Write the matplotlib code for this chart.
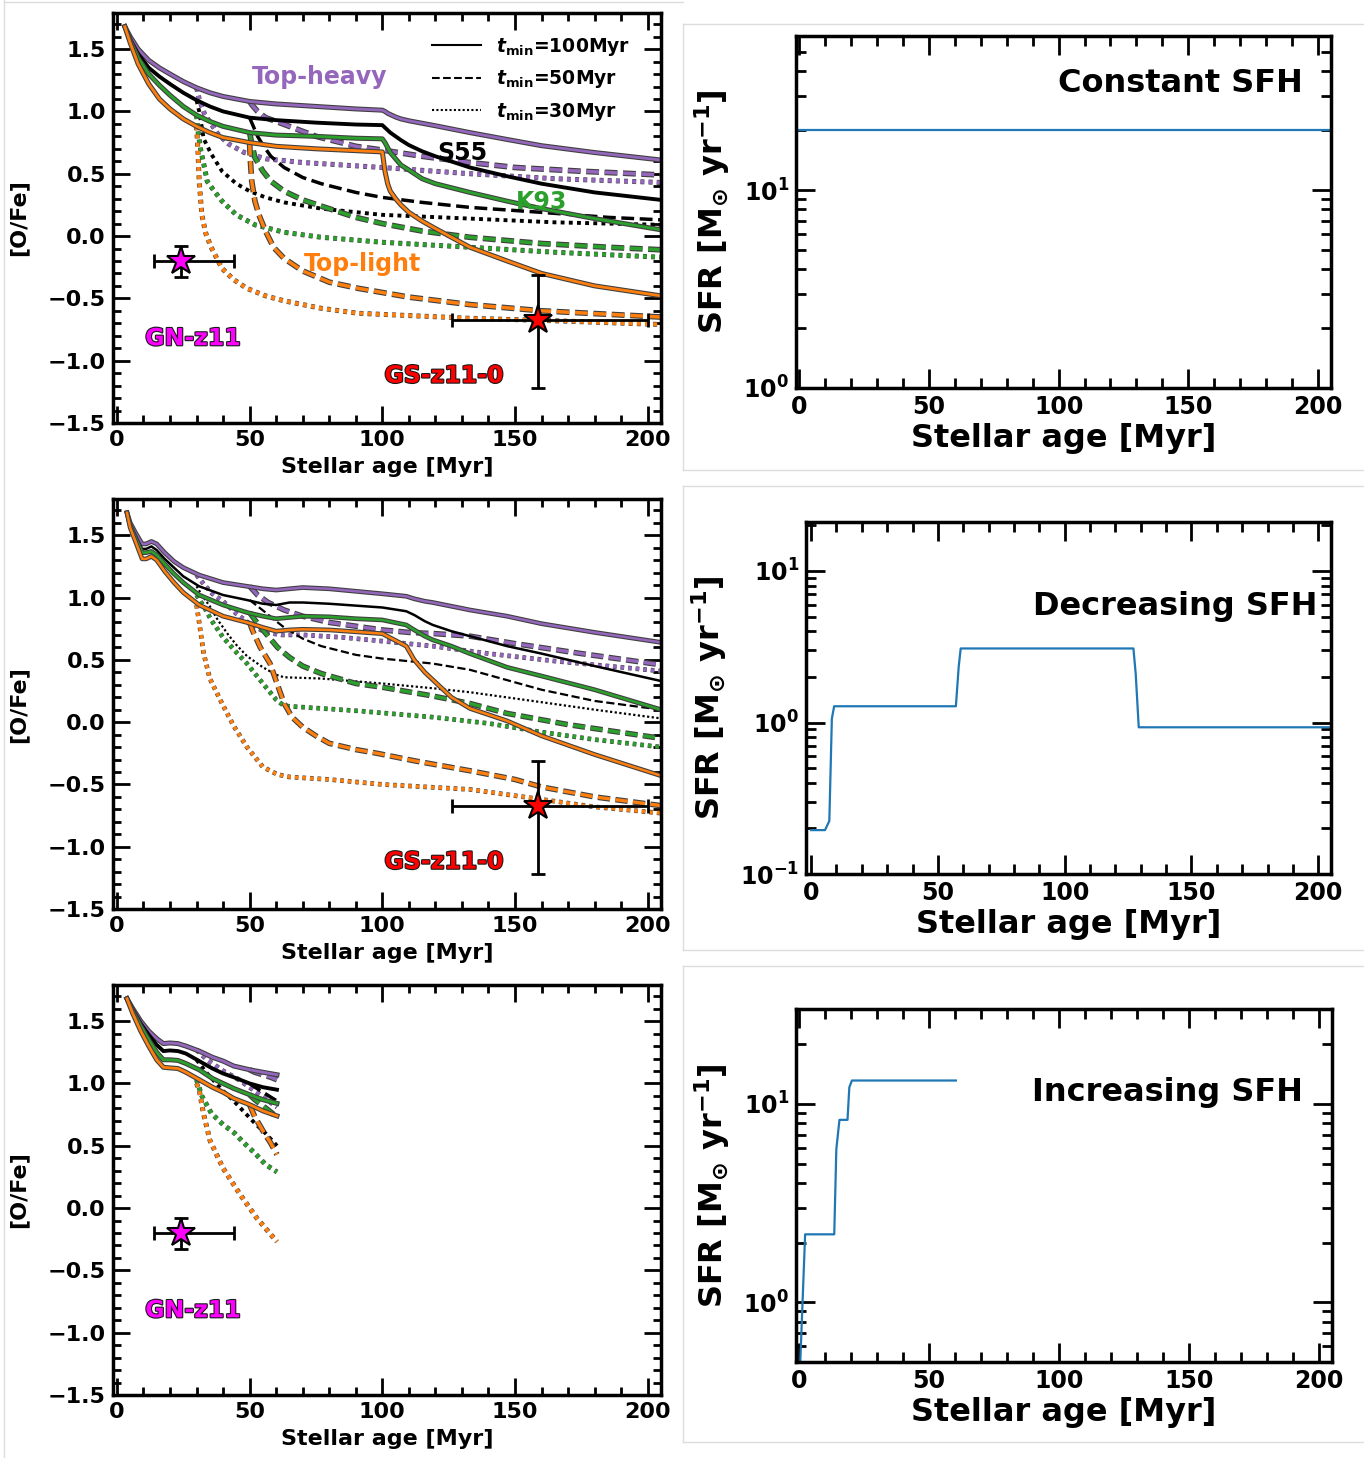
import math
import matplotlib
matplotlib.use("Agg")
import matplotlib.pyplot as plt
import matplotlib.patheffects as pe
from matplotlib.lines import Line2D
from matplotlib.ticker import MultipleLocator, LogLocator, FuncFormatter, NullFormatter

plt.rcParams['font.family'] = 'DejaVu Sans'
plt.rcParams['font.weight'] = 'bold'
plt.rcParams['axes.labelweight'] = 'bold'
plt.rcParams['mathtext.fontset'] = 'dejavusans'

# ---------------- data: [O/Fe] tracks, constant SFH ----------------
cst_age_100 = [3, 5, 8, 12, 16, 20, 25, 30, 35, 40, 50, 60, 75, 90, 100, 101, 102, 103,
               105, 107, 110, 115, 120, 133, 147, 160, 180, 205]
cst_th_100 = [1.68, 1.60, 1.50, 1.41, 1.35, 1.30, 1.24, 1.19, 1.15, 1.12, 1.08, 1.06, 1.04, 1.02,
              1.01, 1.00, 0.985, 0.975, 0.955, 0.94, 0.925, 0.905, 0.885, 0.83, 0.775, 0.725, 0.67, 0.61]
cst_s55_100 = [1.68, 1.58, 1.46, 1.35, 1.28, 1.22, 1.15, 1.09, 1.04, 1.00, 0.95, 0.93, 0.91, 0.895,
               0.89, 0.87, 0.85, 0.83, 0.80, 0.77, 0.73, 0.68, 0.64, 0.55, 0.48, 0.42, 0.35, 0.29]
cst_k93_100 = [1.68, 1.57, 1.43, 1.30, 1.21, 1.13, 1.04, 0.97, 0.92, 0.88, 0.83, 0.81, 0.80, 0.785,
               0.78, 0.75, 0.71, 0.67, 0.62, 0.57, 0.53, 0.46, 0.42, 0.35, 0.28, 0.22, 0.14, 0.05]
cst_tl_100 = [1.68, 1.55, 1.38, 1.22, 1.10, 1.02, 0.94, 0.88, 0.83, 0.79, 0.75, 0.72, 0.70, 0.685,
              0.675, 0.52, 0.42, 0.36, 0.30, 0.25, 0.19, 0.12, 0.06, -0.09, -0.20, -0.30, -0.40, -0.48]

cst_age_th_50 = [50, 51, 53, 56, 60, 65, 75, 90, 100, 115, 133, 150, 175, 205]
cst_th_50 = [1.08, 1.05, 1.00, 0.95, 0.92, 0.88, 0.80, 0.72, 0.69, 0.64, 0.59, 0.55, 0.52, 0.49]
cst_age_s55_50 = [50, 51, 53, 55, 58, 63, 70, 77, 90, 100, 115, 133, 160, 185, 205]
cst_s55_50 = [0.95, 0.90, 0.80, 0.73, 0.64, 0.55, 0.47, 0.42, 0.35, 0.31, 0.27, 0.23, 0.19, 0.15, 0.13]
cst_age_k93_50 = [50, 51, 52, 55, 58, 63, 70, 77, 90, 100, 115, 133, 160, 185, 205]
cst_k93_50 = [0.83, 0.72, 0.63, 0.52, 0.44, 0.36, 0.29, 0.24, 0.15, 0.10, 0.04, -0.01, -0.06, -0.09, -0.11]
cst_age_tl_50 = [50, 50.3, 50.8, 52, 53.5, 56, 59, 63, 70, 80, 91, 110, 133, 160, 205]
cst_tl_50 = [0.75, 0.60, 0.44, 0.28, 0.17, 0.04, -0.09, -0.18, -0.28, -0.37, -0.42, -0.49, -0.55, -0.60, -0.65]

cst_age_th_30 = [30, 31, 33, 35.5, 38, 42, 48, 56, 70, 85, 100, 133, 165, 205]
cst_th_30 = [1.19, 1.10, 0.98, 0.90, 0.82, 0.74, 0.67, 0.62, 0.59, 0.57, 0.55, 0.50, 0.46, 0.43]
cst_age_s55_30 = [30, 31, 32.7, 35.5, 39.6, 45, 50, 56, 63, 77, 100, 133, 165, 205]
cst_s55_30 = [1.09, 1.00, 0.78, 0.66, 0.52, 0.42, 0.36, 0.31, 0.27, 0.22, 0.17, 0.14, 0.11, 0.09]
cst_age_k93_30 = [30, 30.5, 31.5, 33, 34, 36, 39.6, 45, 52, 63, 77, 100, 133, 165, 205]
cst_k93_30 = [0.97, 0.85, 0.70, 0.55, 0.44, 0.38, 0.28, 0.17, 0.09, 0.03, -0.01, -0.05, -0.09, -0.13, -0.17]
cst_age_tl_30 = [30, 30.5, 31, 32, 33.5, 35.5, 39.6, 44, 49, 56, 63, 77, 91, 133, 165, 205]
cst_tl_30 = [0.88, 0.70, 0.44, 0.17, 0.02, -0.09, -0.26, -0.35, -0.42, -0.48, -0.52, -0.58, -0.62, -0.66, -0.68, -0.71]

# ---------------- data: [O/Fe] tracks, decreasing SFH ----------------
dec_age_100 = [3.8, 5, 7, 9.5, 11, 13, 15, 18, 21.5, 25, 31, 40, 49, 55, 60, 65, 70, 80, 90, 100,
               109, 112, 116, 119, 126, 133, 147, 160, 180, 205]
dec_th_100 = [1.68, 1.60, 1.52, 1.43, 1.43, 1.45, 1.43, 1.36, 1.29, 1.24, 1.18, 1.12, 1.09, 1.07,
              1.06, 1.07, 1.08, 1.07, 1.05, 1.03, 1.01, 0.99, 0.97, 0.96, 0.93, 0.90, 0.85, 0.79, 0.72, 0.64]
dec_s55_100 = [1.68, 1.59, 1.50, 1.39, 1.39, 1.41, 1.38, 1.31, 1.24, 1.17, 1.09, 1.02, 0.98, 0.95,
               0.94, 0.96, 0.96, 0.95, 0.935, 0.92, 0.89, 0.86, 0.81, 0.78, 0.73, 0.69, 0.61, 0.55, 0.45, 0.33]
dec_k93_100 = [1.68, 1.58, 1.48, 1.36, 1.36, 1.37, 1.34, 1.27, 1.19, 1.12, 1.02, 0.94, 0.88, 0.85,
               0.83, 0.84, 0.85, 0.845, 0.83, 0.82, 0.78, 0.74, 0.69, 0.66, 0.61, 0.55, 0.44, 0.37, 0.26, 0.10]
dec_tl_100 = [1.68, 1.56, 1.45, 1.31, 1.31, 1.33, 1.30, 1.21, 1.12, 1.04, 0.94, 0.85, 0.80, 0.76,
              0.73, 0.74, 0.745, 0.74, 0.725, 0.71, 0.61, 0.50, 0.40, 0.34, 0.20, 0.11, 0.01, -0.11, -0.26, -0.43]

dec_age_th_50 = [50, 53, 57, 63, 70, 80, 90, 100, 110, 120, 133, 150, 175, 205]
dec_th_50 = [1.09, 1.02, 0.96, 0.90, 0.85, 0.80, 0.77, 0.74, 0.72, 0.71, 0.69, 0.63, 0.55, 0.46]
dec_age_s55_50 = [50, 53, 56, 60, 63, 70, 77, 90, 100, 119, 133, 160, 180, 205]
dec_s55_50 = [0.98, 0.93, 0.88, 0.81, 0.76, 0.67, 0.61, 0.54, 0.51, 0.47, 0.42, 0.26, 0.17, 0.10]
dec_age_k93_50 = [50, 52, 55, 60.5, 65, 70, 77, 90, 100, 119, 133, 147, 170, 205]
dec_k93_50 = [0.88, 0.82, 0.74, 0.60, 0.52, 0.45, 0.39, 0.31, 0.28, 0.21, 0.15, 0.07, -0.02, -0.13]
dec_age_tl_50 = [50, 51, 54, 57.7, 60, 63, 66, 70, 75, 80, 90, 98, 112, 133, 150, 160, 180, 205]
dec_tl_50 = [0.80, 0.74, 0.60, 0.47, 0.33, 0.15, 0.04, -0.04, -0.11, -0.17, -0.22, -0.25, -0.31,
             -0.39, -0.46, -0.52, -0.60, -0.67]

dec_age_th_30 = [30, 33, 36, 40, 45, 50, 56, 62, 70, 85, 100, 119, 140, 165, 205]
dec_th_30 = [1.18, 1.10, 1.03, 0.97, 0.87, 0.79, 0.72, 0.70, 0.70, 0.68, 0.65, 0.61, 0.55, 0.49, 0.41]
dec_age_s55_30 = [30, 32, 35, 38, 42, 45, 49, 55, 60, 63, 77, 100, 120, 133, 160, 180, 205]
dec_s55_30 = [1.09, 1.02, 0.93, 0.82, 0.70, 0.62, 0.53, 0.44, 0.38, 0.36, 0.35, 0.31, 0.27, 0.24,
              0.16, 0.10, 0.03]
dec_age_k93_30 = [30, 33, 35.5, 40, 45, 49, 55, 60, 63, 70, 91, 119, 140, 160, 180, 205]
dec_k93_30 = [1.02, 0.92, 0.82, 0.68, 0.56, 0.47, 0.31, 0.18, 0.13, 0.12, 0.09, 0.04, -0.01, -0.08, -0.14, -0.20]
dec_age_tl_30 = [30, 31, 32.7, 35, 39.6, 44, 49, 55, 60.5, 65, 80, 100, 133, 160, 180, 205]
dec_tl_30 = [0.94, 0.80, 0.55, 0.35, 0.15, -0.03, -0.20, -0.36, -0.42, -0.44, -0.46, -0.50, -0.54,
             -0.62, -0.68, -0.73]

# ---------------- data: [O/Fe] tracks, increasing SFH ----------------
inc_age_100 = [3.8, 6, 9, 12, 15, 17.5, 20, 23, 26, 31, 36, 40, 44, 50, 55, 60.3]
inc_th_100 = [1.68, 1.60, 1.50, 1.42, 1.36, 1.32, 1.325, 1.32, 1.30, 1.26, 1.21, 1.18, 1.14, 1.11, 1.09, 1.07]
inc_s55_100 = [1.68, 1.59, 1.48, 1.39, 1.31, 1.26, 1.265, 1.26, 1.24, 1.18, 1.12, 1.08, 1.05, 1.00, 0.97, 0.95]
inc_k93_100 = [1.68, 1.58, 1.46, 1.35, 1.25, 1.19, 1.19, 1.185, 1.16, 1.11, 1.04, 1.00, 0.96, 0.91, 0.87, 0.84]
inc_tl_100 = [1.68, 1.56, 1.42, 1.30, 1.19, 1.13, 1.125, 1.12, 1.09, 1.03, 0.97, 0.93, 0.88, 0.83, 0.78, 0.74]

inc_age_50 = [50, 52, 55, 58, 60.3]
inc_th_50 = [1.11, 1.09, 1.07, 1.05, 1.03]
inc_s55_50 = [1.00, 0.97, 0.93, 0.89, 0.86]
inc_k93_50 = [0.91, 0.87, 0.82, 0.77, 0.73]
inc_tl_50 = [0.83, 0.73, 0.62, 0.52, 0.43]

inc_age_th_30 = [30, 34, 40, 46, 50, 54, 60.3]
inc_th_30 = [1.27, 1.19, 1.10, 1.03, 0.97, 0.91, 0.81]
inc_age_s55_30 = [30, 34, 40, 44, 48, 52, 56, 60.3]
inc_s55_30 = [1.19, 1.08, 0.94, 0.86, 0.77, 0.68, 0.60, 0.50]
inc_age_k93_30 = [30, 32, 35.6, 40, 44.4, 48, 52, 56, 60.3]
inc_k93_30 = [1.03, 0.90, 0.76, 0.67, 0.60, 0.52, 0.44, 0.35, 0.29]
inc_age_tl_30 = [30, 31, 32.6, 35.1, 40, 46.4, 52.7, 60.3]
inc_tl_30 = [1.00, 0.95, 0.76, 0.54, 0.32, 0.11, -0.08, -0.27]

# ---------------- data: observations ----------------
gn_age, gn_ofe = 24.0, -0.20
gn_age_err = [[10.0], [20.0]]
gn_ofe_err = [[0.13], [0.12]]
gs_age, gs_ofe = 158.6, -0.67
gs_age_err = [[32.4], [41.4]]
gs_ofe_err = [[0.55], [0.36]]

# ---------------- data: star formation histories ----------------
sfr_cst_age = [0, 205]
sfr_cst_val = [20.0, 20.0]
sfr_dec_age = [0, 5.5, 7.2, 8.2, 9.1, 57.1, 58.2, 59.0, 127.1, 128.0, 129.2, 205]
sfr_dec_val = [0.195, 0.195, 0.224, 1.06, 1.28, 1.28, 2.32, 3.08, 3.08, 2.1, 0.93, 0.93]
sfr_inc_age = [0.3, 2.3, 13.5, 14.3, 15.5, 18.6, 19.3, 20.3, 60.3]
sfr_inc_val = [0.45, 2.2, 2.2, 5.9, 8.3, 8.3, 12.1, 13.1, 13.1]

PURPLE = '#9467bd'
GREEN = '#2ca02c'
ORANGE = '#ff7f0e'
DOT = (0, (1, 1.1))


def track(ax, t, v, color, ls, lw):
    kw = dict(color=color, ls=ls, lw=lw)
    if color != 'k':
        edge = 1.6 if ls != DOT else 0.8
        kw['path_effects'] = [pe.Stroke(linewidth=lw + edge, foreground='0.25'), pe.Normal()]
    ax.plot(t, v, **kw)


def ofe_axes(ax):
    ax.set_xlim(-1.5, 205)
    ax.set_ylim(-1.5, 1.79)
    ax.xaxis.set_major_locator(MultipleLocator(50))
    ax.xaxis.set_minor_locator(MultipleLocator(10))
    ax.yaxis.set_major_locator(MultipleLocator(0.5))
    ax.yaxis.set_minor_locator(MultipleLocator(0.1))
    ax.tick_params(which='both', direction='in', top=True, right=True, width=2)
    ax.tick_params(which='major', length=12, labelsize=16, pad=5)
    ax.tick_params(which='minor', length=6)
    for s in ax.spines.values():
        s.set_linewidth(2.5)
    ax.set_xlabel('Stellar age [Myr]', fontsize=16, labelpad=5)
    ax.set_ylabel('[O/Fe]', fontsize=16, labelpad=14)


def sfr_axes(ax, ylim, title, tx, ty):
    ax.set_yscale('log')
    ax.set_ylim(*ylim)
    ax.set_xlim(-1.2, 205)
    ax.xaxis.set_major_locator(MultipleLocator(50))
    ax.xaxis.set_minor_locator(MultipleLocator(10))
    ax.yaxis.set_major_locator(LogLocator(base=10, numticks=10))
    ax.yaxis.set_minor_locator(LogLocator(base=10, subs=range(2, 10), numticks=20))
    ax.yaxis.set_major_formatter(FuncFormatter(
        lambda v, p: r'$\mathbf{10^{%d}}$' % round(math.log10(v))))
    ax.yaxis.set_minor_formatter(NullFormatter())
    ax.tick_params(which='both', direction='in', top=True, right=True, width=2)
    ax.tick_params(which='major', length=14, labelsize=17, pad=5)
    ax.tick_params(which='minor', length=7)
    for s in ax.spines.values():
        s.set_linewidth(2.5)
    ax.set_xlabel('Stellar age [Myr]', fontsize=23, labelpad=3)
    ax.set_ylabel(r'SFR [M$_\mathbf{\odot}$ yr$^\mathbf{-1}$]', fontsize=23, labelpad=8)
    ax.text(tx, ty, title, transform=ax.transAxes, ha='right', va='center',
            fontsize=23, fontweight='bold')


def observation(ax, x, y, xe, ye, face):
    ax.errorbar([x], [y], xerr=xe, yerr=ye, fmt='none', ecolor='k', elinewidth=2,
                capsize=5, capthick=2, zorder=5)
    ax.plot([x], [y], marker='*', ms=21, mfc=face, mec='k', mew=1.5, zorder=6)


def label(ax, x, y, s, color, stroke=False):
    t = ax.text(x, y, s, color=color, fontsize=17, fontweight='bold', ha='center', va='center')
    if stroke:
        t.set_path_effects([pe.withStroke(linewidth=1.6, foreground='0.1')])


fig = plt.figure(figsize=(13.64, 14.58), dpi=100)

ax1 = fig.add_axes([0.0828, 0.7099, 0.4018, 0.2812])
ax2 = fig.add_axes([0.0828, 0.3765, 0.4018, 0.2812])
ax3 = fig.add_axes([0.0828, 0.0432, 0.4018, 0.2812])
ax4 = fig.add_axes([0.5836, 0.7339, 0.3922, 0.2414])
ax5 = fig.add_axes([0.5909, 0.4005, 0.3849, 0.2414])
ax6 = fig.add_axes([0.5836, 0.0658, 0.3930, 0.2421])

# constant SFH
for t, v, c in [(cst_age_th_30, cst_th_30, PURPLE), (cst_age_s55_30, cst_s55_30, 'k'),
                (cst_age_k93_30, cst_k93_30, GREEN), (cst_age_tl_30, cst_tl_30, ORANGE)]:
    track(ax1, t, v, c, DOT, 2.8)
for t, v, c in [(cst_age_th_50, cst_th_50, PURPLE), (cst_age_s55_50, cst_s55_50, 'k'),
                (cst_age_k93_50, cst_k93_50, GREEN), (cst_age_tl_50, cst_tl_50, ORANGE)]:
    track(ax1, t, v, c, '--', 2.5)
for v, c in [(cst_th_100, PURPLE), (cst_s55_100, 'k'), (cst_k93_100, GREEN), (cst_tl_100, ORANGE)]:
    track(ax1, cst_age_100, v, c, '-', 2.8 if c == 'k' else 2.0)

# decreasing SFH
for t, v, c in [(dec_age_th_30, dec_th_30, PURPLE), (dec_age_s55_30, dec_s55_30, 'k'),
                (dec_age_k93_30, dec_k93_30, GREEN), (dec_age_tl_30, dec_tl_30, ORANGE)]:
    track(ax2, t, v, c, DOT, 2.6 if c != 'k' else 1.6)
for t, v, c in [(dec_age_th_50, dec_th_50, PURPLE), (dec_age_s55_50, dec_s55_50, 'k'),
                (dec_age_k93_50, dec_k93_50, GREEN), (dec_age_tl_50, dec_tl_50, ORANGE)]:
    track(ax2, t, v, c, '--', 2.4 if c != 'k' else 1.6)
for v, c in [(dec_th_100, PURPLE), (dec_s55_100, 'k'), (dec_k93_100, GREEN), (dec_tl_100, ORANGE)]:
    track(ax2, dec_age_100, v, c, '-', 1.8)

# increasing SFH
for t, v, c in [(inc_age_th_30, inc_th_30, PURPLE), (inc_age_s55_30, inc_s55_30, 'k'),
                (inc_age_k93_30, inc_k93_30, GREEN), (inc_age_tl_30, inc_tl_30, ORANGE)]:
    track(ax3, t, v, c, DOT, 2.8)
for v, c in [(inc_th_50, PURPLE), (inc_s55_50, 'k'), (inc_k93_50, GREEN), (inc_tl_50, ORANGE)]:
    track(ax3, inc_age_50, v, c, '--', 2.5)
for v, c in [(inc_th_100, PURPLE), (inc_s55_100, 'k'), (inc_k93_100, GREEN), (inc_tl_100, ORANGE)]:
    track(ax3, inc_age_100, v, c, '-', 2.8 if c == 'k' else 2.0)

for ax in (ax1, ax2, ax3):
    ofe_axes(ax)

observation(ax1, gn_age, gn_ofe, gn_age_err, gn_ofe_err, 'magenta')
observation(ax1, gs_age, gs_ofe, gs_age_err, gs_ofe_err, 'red')
observation(ax2, gs_age, gs_ofe, gs_age_err, gs_ofe_err, 'red')
observation(ax3, gn_age, gn_ofe, gn_age_err, gn_ofe_err, 'magenta')

label(ax1, 76.5, 1.275, 'Top-heavy', PURPLE)
label(ax1, 130, 0.67, 'S55', 'k')
label(ax1, 160, 0.27, 'K93', GREEN)
label(ax1, 92.7, -0.225, 'Top-light', ORANGE)
label(ax1, 28.6, -0.82, 'GN-z11', 'magenta', stroke=True)
label(ax1, 123.2, -1.12, 'GS-z11-0', 'red', stroke=True)
label(ax2, 123.2, -1.12, 'GS-z11-0', 'red', stroke=True)
label(ax3, 28.6, -0.82, 'GN-z11', 'magenta', stroke=True)

handles = [Line2D([], [], color='k', ls='-', lw=1.5),
           Line2D([], [], color='k', ls='--', lw=1.5),
           Line2D([], [], color='k', ls=DOT, lw=1.5)]
names = [r'$\mathbfit{t}_\mathbf{min}$=100Myr', r'$\mathbfit{t}_\mathbf{min}$=50Myr',
         r'$\mathbfit{t}_\mathbf{min}$=30Myr']
ax1.legend(handles, names, loc='upper right', frameon=False, fontsize=13.5,
           handlelength=2.6, labelspacing=0.55, borderaxespad=0.5, bbox_to_anchor=(0.975, 0.985))

# star formation histories
ax4.plot(sfr_cst_age, sfr_cst_val, color='#1f77b4', lw=1.6)
ax5.plot(sfr_dec_age, sfr_dec_val, color='#1f77b4', lw=1.6)
ax6.plot(sfr_inc_age, sfr_inc_val, color='#1f77b4', lw=1.6)
sfr_axes(ax4, (1, 60), 'Constant SFH', 0.948, 0.864)
sfr_axes(ax5, (0.1, 21), 'Decreasing SFH', 0.975, 0.761)
ax5.set_xlim(-2, 205)
sfr_axes(ax6, (0.5, 30), 'Increasing SFH', 0.946, 0.765)

# faint frame lines of the assembled figure
W, H = 1364.0, 1458.0
gray = dict(color='#dddddd', lw=1.0, transform=fig.transFigure)
fig.add_artist(Line2D([4 / W, 4 / W], [0, 1], **gray))
fig.add_artist(Line2D([4 / W, 683 / W], [1 - 2 / H, 1 - 2 / H], **gray))
for top, bot in [(24, 470), (486, 950), (966, 1442)]:
    fig.add_artist(Line2D([683 / W, 1], [1 - top / H, 1 - top / H], **gray))
    fig.add_artist(Line2D([683 / W, 1], [1 - bot / H, 1 - bot / H], **gray))
    fig.add_artist(Line2D([683 / W, 683 / W], [1 - bot / H, 1 - top / H], **gray))

fig.savefig('out.png', dpi=100)
